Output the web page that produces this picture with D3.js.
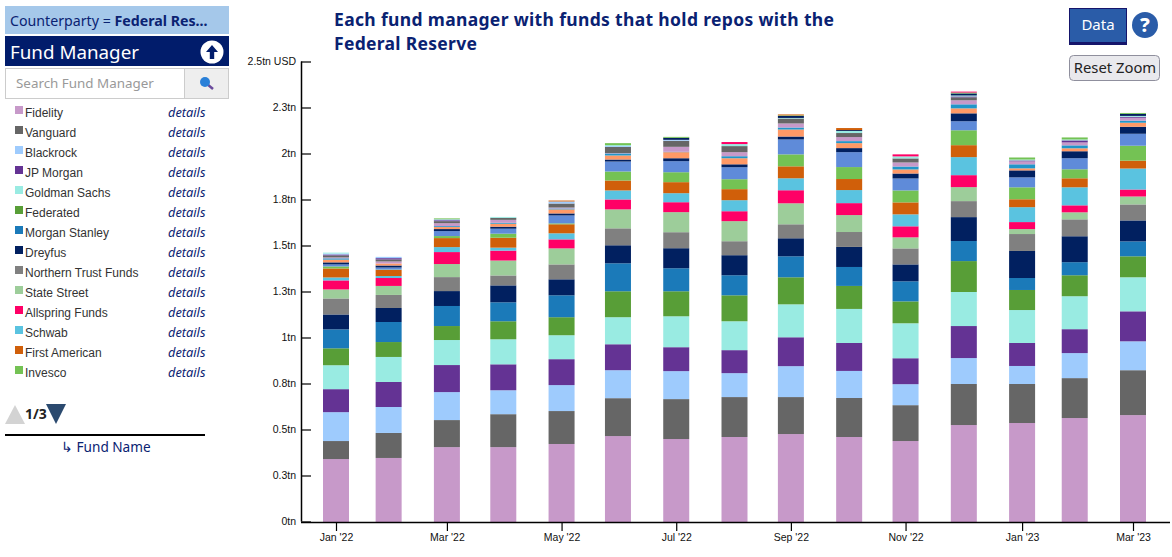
<!DOCTYPE html>
<html><head><meta charset="utf-8">
<script src="https://cdnjs.cloudflare.com/ajax/libs/d3/7.8.5/d3.min.js"></script>
<style>
html,body{margin:0;padding:0;background:#fff;overflow:hidden}
svg{display:block}
.ui{font-family:"Noto Sans",sans-serif}
.ar{font-family:"Liberation Sans",Arial,sans-serif}
</style></head><body><svg id="c" width="1172" height="557"></svg>
<script>
const months=["2022-01-31","2022-02-28","2022-03-31","2022-04-30","2022-05-31","2022-06-30","2022-07-31","2022-08-31","2022-09-30","2022-10-31","2022-11-30","2022-12-31","2023-01-31","2023-02-28","2023-03-31"];
const xTickDates=["2022-01-31","2022-03-31","2022-05-31","2022-07-31","2022-09-30","2022-11-30","2023-01-31","2023-03-31"];
const xTickLabels=["Jan '22","Mar '22","May '22","Jul '22","Sep '22","Nov '22","Jan '23","Mar '23"];
const yTickValues=[0,250,500,750,1000,1250,1500,1750,2000,2250,2500];
const yTickLabels=["0tn","0.3tn","0.5tn","0.8tn","1tn","1.3tn","1.5tn","1.8tn","2tn","2.3tn","2.5tn USD"];
// values in $bn
const fidelity=[342,348,407,407,424,467,451,462,478,462,440,527,538,565,581];
const vanguard=[98,136,147,179,179,206,217,217,201,212,195,223,212,217,244];
const blackrock=[157,141,152,130,141,152,152,130,168,147,114,141,98,136,157];
const jpMorgan=[125,136,147,141,141,141,130,125,157,152,141,174,125,130,163];
const goldman=[130,136,136,136,130,147,168,157,179,185,190,185,179,179,185];
const federated=[92,81,76,98,98,141,136,141,147,125,119,168,109,114,114];
const morganStanley=[103,109,109,103,119,152,125,109,114,103,109,109,65,71,81];
const dreyfus=[81,76,81,92,87,98,109,109,98,109,92,130,147,141,114];
const northernTrust=[87,71,76,54,81,92,87,76,76,81,87,87,92,92,87];
const stateStreet=[49,49,71,81,87,103,109,109,114,92,60,76,27,38,43];
const allspring=[49,43,65,54,49,54,54,54,71,65,60,65,38,38,38];
const schwab=[16,11,27,16,33,49,49,60,65,71,65,98,81,98,114];
const firstAmerican=[49,33,49,54,49,54,60,60,65,60,65,65,43,49,43];
const invesco=[11,2,11,22,5,49,54,54,65,65,65,81,65,49,81];
const fund15=[11,11,27,27,43,54,60,65,81,81,65,49,54,60,65];
const fund16=[11,11,11,11,11,11,16,16,16,22,27,43,38,38,38];
const fund17=[15,11,11,16,22,22,33,33,38,27,22,27,11,16,22];
const fund18=[7,0,5,5,5,11,2,11,11,11,16,22,22,16,11];
const fund19=[5,11,16,16,5,2,27,22,22,22,22,22,16,16,16];
const fund20=[11,11,11,11,22,33,33,33,27,22,22,16,0,0,0];
const fund21=[5,7,5,0,0,0,0,0,0,0,0,5,5,11,5];
const fund22=[5,7,5,0,11,5,5,0,0,0,0,0,0,0,0];
const fund23=[5,0,0,5,0,5,0,11,3,11,11,5,5,5,5];
const fund24=[0,0,0,0,0,0,11,0,11,5,0,11,0,0,11];
const fund25=[0,0,5,0,0,11,5,0,3,0,0,5,11,11,5];
const fund26=[0,0,0,0,0,0,0,11,0,0,11,5,0,0,0];
const fund27=[0,0,0,0,5,0,0,0,5,11,0,0,0,0,0];
const seriesValues=[fidelity,vanguard,blackrock,jpMorgan,goldman,federated,morganStanley,dreyfus,northernTrust,stateStreet,allspring,schwab,firstAmerican,invesco,fund15,fund16,fund17,fund18,fund19,fund20,fund21,fund22,fund23,fund24,fund25,fund26,fund27];
const legendNames=["Fidelity","Vanguard","Blackrock","JP Morgan","Goldman Sachs","Federated","Morgan Stanley","Dreyfus","Northern Trust Funds","State Street","Allspring Funds","Schwab","First American","Invesco"];
const colors=["#c799c9","#666666","#9ecbfd","#643394","#99ebe2","#589e37","#1b7ab9","#012060","#808080","#9dcd9a","#ff0066","#5ac3e0","#d05f0a","#74c254","#5f8bd9","#012060","#ff9966","#2196c9","#c799c9","#666666","#643394","#9ecbfd","#99ebe2","#012060","#74c254","#ff0066","#d05f0a"];

const svg=d3.select("#c");
const navy="#0a2272";
const parse=d3.utcParse("%Y-%m-%d");
const x=d3.scaleUtc().domain([parse(months[0]),parse(months[months.length-1])]).range([336,1133]);
const y=d3.scaleLinear().domain([0,2500]).range([522,62]);
const rows=months.map((m,i)=>{const r={date:parse(m)};seriesValues.forEach((s,k)=>r[k]=s[i]);return r;});
const stack=d3.stack().keys(seriesValues.map((s,k)=>k))(rows);
const barW=26;
svg.append("g").selectAll("g").data(stack).join("g").attr("fill",(d,i)=>colors[i])
 .selectAll("rect").data(d=>d).join("rect")
 .attr("x",d=>x(d.data.date)-barW/2).attr("width",barW)
 .attr("y",d=>y(d[1])).attr("height",d=>Math.max(0,y(d[0])-y(d[1])));

const yAxis=d3.axisLeft(y).tickValues(yTickValues).tickSize(-10).tickPadding(5).tickFormat((d,i)=>yTickLabels[i]);
const gy=svg.append("g").attr("transform","translate(301,-0.5)").call(yAxis);
const xAxis=d3.axisBottom(x).tickValues(xTickDates.map(parse)).tickSize(9).tickPadding(3).tickFormat((d,i)=>xTickLabels[i]);
const gx=svg.append("g").attr("transform","translate(0,522)").call(xAxis);
[gy,gx].forEach(g=>{g.attr("font-family","'Liberation Sans',Arial,sans-serif").attr("font-size",10.5);g.selectAll("text").attr("fill","#111");g.selectAll("line").attr("stroke","#000").attr("stroke-width",1.2);});
gy.select(".domain").attr("d","M0.5,62V522").attr("stroke","#000").attr("stroke-width",1.5);
gx.select(".domain").attr("d","M301,0.5H1170").attr("stroke","#000").attr("stroke-width",1.5);

// title
const title=svg.append("g").attr("class","ui").attr("fill",navy).attr("font-weight",700).attr("font-size",17.5);
title.append("text").attr("x",334).attr("y",26).attr("textLength",500).attr("lengthAdjust","spacing").text("Each fund manager with funds that hold repos with the");
title.append("text").attr("x",334).attr("y",50).attr("textLength",143).attr("lengthAdjust","spacing").text("Federal Reserve");

// filter box
svg.append("rect").attr("x",5).attr("y",6).attr("width",224).attr("height",28).attr("fill","#a5c8ea");
const ft=svg.append("text").attr("class","ui").attr("x",10).attr("y",26).attr("font-size",14.2).attr("fill",navy);
ft.append("tspan").text("Counterparty = ");
ft.append("tspan").attr("font-weight",700).text("Federal Res...");

// header
svg.append("rect").attr("x",5).attr("y",36).attr("width",224).attr("height",30).attr("fill","#011c6b");
svg.append("text").attr("class","ui").attr("x",10).attr("y",59).attr("font-size",18.8).attr("fill","#fff").text("Fund Manager");
svg.append("circle").attr("cx",212).attr("cy",52).attr("r",11.5).attr("fill","#fff");
svg.append("path").attr("d","M212,45L218,52H214.2V59H209.8V52H206Z").attr("fill","#011c6b");

// search
svg.append("rect").attr("x",5.5).attr("y",68.5).attr("width",223).attr("height",30).attr("fill","#fff").attr("stroke","#ccc");
svg.append("rect").attr("x",184.5).attr("y",68.5).attr("width",44).attr("height",30).attr("fill","#eee").attr("stroke","#ccc");
svg.append("text").attr("class","ui").attr("x",16).attr("y",88).attr("font-size",13.4).attr("fill","#999").text("Search Fund Manager");
svg.append("line").attr("x1",207).attr("y1",84).attr("x2",213).attr("y2",89).attr("stroke","#6a4a9c").attr("stroke-width",2.5);
svg.append("circle").attr("cx",205).attr("cy",82).attr("r",5).attr("fill","#2a80d8");

// legend
const leg=svg.append("g").selectAll("g").data(legendNames).join("g").attr("transform",(d,i)=>`translate(0,${20*i})`);
leg.append("rect").attr("x",15).attr("y",106).attr("width",8).attr("height",8).attr("fill",(d,i)=>colors[i]);
leg.append("text").attr("class","ar").attr("x",25).attr("y",117).attr("font-size",12).attr("fill","#333").text(d=>d);
leg.append("text").attr("class","ui").attr("x",168).attr("y",117).attr("font-size",12.8).attr("font-style","italic").attr("fill",navy).text("details");

// pager
svg.append("path").attr("d","M15,405L25,424H5Z").attr("fill","#d3d3d3");
svg.append("text").attr("class","ui").attr("x",25).attr("y",419).attr("font-size",14).attr("font-weight",700).attr("fill","#222").text("1/3");
svg.append("path").attr("d","M46,404H66L56,424Z").attr("fill","#2b4a6f");
svg.append("line").attr("x1",5).attr("x2",205).attr("y1",435).attr("y2",435).attr("stroke","#000").attr("stroke-width",2);
svg.append("text").attr("class","ui").attr("x",61).attr("y",452).attr("font-size",13.6).attr("fill",navy).text("↳ Fund Name");

// buttons
svg.append("rect").attr("x",1069).attr("y",8).attr("width",58).attr("height",37).attr("fill","#15156b");
svg.append("rect").attr("x",1070).attr("y",9).attr("width",56).attr("height",33).attr("fill","#2a5ca8");
svg.append("text").attr("class","ui").attr("x",1098).attr("y",30).attr("text-anchor","middle").attr("font-size",15).attr("fill","#fff").text("Data");
svg.append("circle").attr("cx",1145).attr("cy",25).attr("r",13).attr("fill","#2a5ca8");
svg.append("text").attr("class","ui").attr("x",1145).attr("y",32).attr("text-anchor","middle").attr("font-size",20).attr("font-weight",800).attr("fill","#fff").text("?");
svg.append("rect").attr("x",1069.5).attr("y",55.5).attr("width",90).attr("height",25).attr("rx",4).attr("fill","#e9e9ed").attr("stroke","#8f8f9d");
svg.append("text").attr("class","ui").attr("x",1115).attr("y",73).attr("text-anchor","middle").attr("font-size",14.8).attr("fill","#222").text("Reset Zoom");
</script></body></html>
